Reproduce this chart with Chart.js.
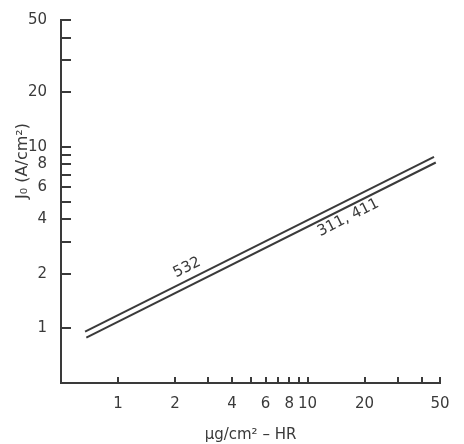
<!DOCTYPE html>
<html>
<head>
<meta charset="utf-8">
<script src="https://cdn.jsdelivr.net/npm/chart.js@4"></script>
<style>
  body { margin: 0; background: #fff; }
  canvas { display: block; }
</style>
</head>
<body>
<canvas id="myChart" width="464" height="444"></canvas>
<script>
// values (log-log)
var dose532 = [0.67, 46.5];
var jo532 = [0.96, 8.8];
var dose311 = [0.68, 47.5];
var jo311 = [0.89, 8.2];

var xTicks = [1, 2, 3, 4, 5, 6, 7, 8, 9, 10, 20, 30, 40, 50];
var xTickLabels = [1, 2, 4, 6, 8, 10, 20, 50];
var yTicks = [1, 2, 3, 4, 5, 6, 7, 8, 9, 10, 20, 30, 40, 50];
var yTickLabels = [1, 2, 4, 6, 8, 10, 20, 50];

// curve labels, anchored in data coordinates
var curveNames = ['532', '311, 411'];
var curveLabelX = [2.31, 16.4];
var curveLabelY = [2.16, 4.07];

var ink = '#3a3a3a';
var fontFamily = '"DejaVu Sans", sans-serif';

function points(xs, ys) {
    var out = [];
    for (var i = 0; i < xs.length; i++) {
        out.push({ x: xs[i], y: ys[i] });
    }
    return out;
}

// inward tick marks + rotated texts
var decorPlugin = {
    id: 'decor',
    afterDraw: function(chart) {
        var ctx = chart.ctx;
        var xs = chart.scales.x, ys = chart.scales.y;
        var area = chart.chartArea;
        ctx.save();
        ctx.strokeStyle = ink;
        ctx.lineWidth = 2;
        ctx.beginPath();
        yTicks.forEach(function(v) {
            var py = Math.round(ys.getPixelForValue(v));
            ctx.moveTo(area.left, py);
            ctx.lineTo(area.left + 10, py);
        });
        xTicks.forEach(function(v) {
            var px = Math.round(xs.getPixelForValue(v));
            ctx.moveTo(px, area.bottom);
            ctx.lineTo(px, area.bottom - 6);
        });
        ctx.stroke();

        // y axis title
        ctx.fillStyle = ink;
        ctx.font = '16px ' + fontFamily;
        ctx.textAlign = 'center';
        ctx.textBaseline = 'middle';
        ctx.translate(23, 161);
        ctx.rotate(-Math.PI / 2);
        ctx.fillText('J\u2080 (A/cm\u00b2)', 0, 0);
        ctx.restore();

        // curve labels along the lines
        var meta = chart.getDatasetMeta(0).data;
        var ang = Math.atan2(meta[1].y - meta[0].y, meta[1].x - meta[0].x);
        ctx.save();
        ctx.fillStyle = ink;
        ctx.font = '15px ' + fontFamily;
        ctx.textAlign = 'center';
        ctx.textBaseline = 'middle';
        for (var i = 0; i < curveNames.length; i++) {
            ctx.save();
            ctx.translate(xs.getPixelForValue(curveLabelX[i]), ys.getPixelForValue(curveLabelY[i]));
            ctx.rotate(ang);
            ctx.fillText(curveNames[i], 0, 0);
            ctx.restore();
        }
        ctx.restore();
    }
};

var ctx = document.getElementById('myChart').getContext('2d');
var chart = new Chart(ctx, {
    type: 'scatter',
    data: {
        datasets: [{
            label: '532',
            data: points(dose532, jo532),
            showLine: true,
            borderColor: ink,
            borderWidth: 2,
            pointRadius: 0,
            fill: false
        }, {
            label: '311, 411',
            data: points(dose311, jo311),
            showLine: true,
            borderColor: ink,
            borderWidth: 2,
            pointRadius: 0,
            fill: false
        }]
    },
    options: {
        responsive: false,
        animation: false,
        layout: { padding: { top: 20, right: 24, left: 0, bottom: 0 } },
        plugins: {
            legend: { display: false },
            tooltip: { enabled: false }
        },
        scales: {
            x: {
                type: 'logarithmic',
                min: 0.5,
                max: 50,
                grid: { display: false },
                border: { display: true, color: ink, width: 2 },
                afterBuildTicks: function(scale) {
                    scale.ticks = xTicks.map(function(v) { return { value: v }; });
                },
                afterFit: function(scale) { scale.height = 61; },
                ticks: {
                    autoSkip: false,
                    maxRotation: 0,
                    padding: 4,
                    color: ink,
                    font: { family: fontFamily, size: 15 },
                    callback: function(value) {
                        return xTickLabels.indexOf(value) >= 0 ? String(value) : '';
                    }
                },
                title: {
                    display: true,
                    text: '\u03bcg/cm\u00b2 \u2013 HR',
                    color: ink,
                    font: { family: fontFamily, size: 15 },
                    padding: { top: 0, bottom: 0 }
                }
            },
            y: {
                type: 'logarithmic',
                min: 0.5,
                max: 50,
                grid: { display: false },
                border: { display: true, color: ink, width: 2 },
                afterBuildTicks: function(scale) {
                    scale.ticks = yTicks.map(function(v) { return { value: v }; });
                },
                afterFit: function(scale) { scale.width = 61; },
                ticks: {
                    autoSkip: false,
                    padding: 6,
                    color: ink,
                    font: { family: fontFamily, size: 15 },
                    callback: function(value) {
                        return yTickLabels.indexOf(value) >= 0 ? String(value) : '';
                    }
                }
            }
        }
    },
    plugins: [decorPlugin]
});
</script>
</body>
</html>
